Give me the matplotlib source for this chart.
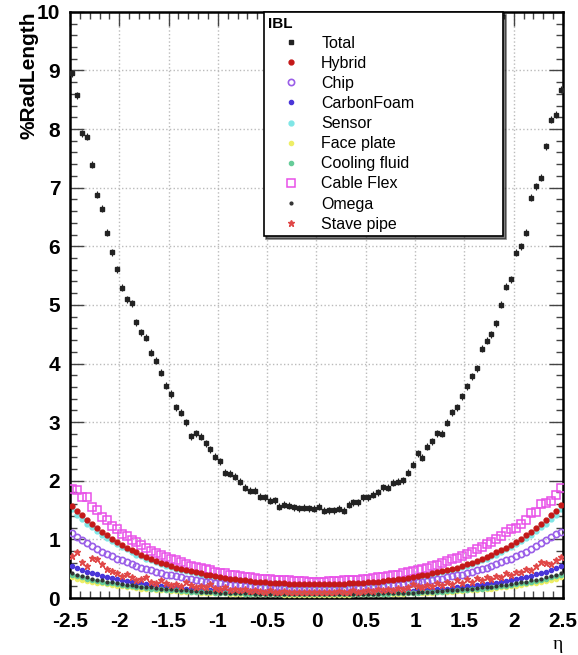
import numpy as np
import matplotlib
matplotlib.use("Agg")
import matplotlib.pyplot as plt
from matplotlib.ticker import MultipleLocator, FormatStrFormatter

plt.rcParams['font.family'] = ['Liberation Sans', 'DejaVu Sans']
plt.rcParams['axes.unicode_minus'] = False

# 100 bins of 0.05 in eta, from -2.5 to 2.5
eta = np.arange(-2.475, 2.5, 0.05)

total = [8.95, 8.58, 7.93, 7.87, 7.39, 6.88, 6.64, 6.23, 5.90, 5.61,
         5.29, 5.10, 5.03, 4.70, 4.53, 4.44, 4.18, 4.05, 3.84, 3.62,
         3.48, 3.25, 3.16, 3.00, 2.76, 2.81, 2.75, 2.64, 2.54, 2.41,
         2.33, 2.14, 2.12, 2.07, 1.98, 1.88, 1.83, 1.83, 1.73, 1.72,
         1.66, 1.67, 1.56, 1.59, 1.57, 1.55, 1.53, 1.54, 1.53, 1.52,
         1.56, 1.49, 1.50, 1.50, 1.52, 1.49, 1.59, 1.63, 1.63, 1.72,
         1.72, 1.76, 1.80, 1.89, 1.88, 1.97, 1.98, 2.01, 2.14, 2.27,
         2.47, 2.39, 2.58, 2.67, 2.81, 2.80, 2.99, 3.17, 3.25, 3.44,
         3.61, 3.78, 3.92, 4.25, 4.39, 4.50, 4.69, 5.00, 5.31, 5.44,
         5.89, 6.00, 6.23, 6.83, 7.02, 7.17, 7.71, 8.16, 8.24, 8.67]
total_err = 0.06

hybrid = [1.57, 1.49, 1.41, 1.33, 1.26, 1.19, 1.13, 1.07, 1.01, 0.96,
          0.91, 0.86, 0.82, 0.78, 0.74, 0.70, 0.67, 0.63, 0.60, 0.58,
          0.55, 0.52, 0.50, 0.48, 0.46, 0.44, 0.42, 0.40, 0.39, 0.37,
          0.36, 0.34, 0.33, 0.32, 0.31, 0.30, 0.29, 0.28, 0.27, 0.27,
          0.26, 0.26, 0.25, 0.25, 0.24, 0.24, 0.24, 0.24, 0.24, 0.24,
          0.24, 0.24, 0.24, 0.24, 0.24, 0.24, 0.25, 0.25, 0.26, 0.26,
          0.27, 0.27, 0.28, 0.29, 0.30, 0.31, 0.32, 0.33, 0.34, 0.36,
          0.37, 0.39, 0.40, 0.42, 0.44, 0.46, 0.48, 0.50, 0.52, 0.55,
          0.58, 0.60, 0.63, 0.67, 0.70, 0.74, 0.78, 0.82, 0.86, 0.91,
          0.96, 1.01, 1.07, 1.13, 1.19, 1.26, 1.33, 1.41, 1.49, 1.58]

chip = [1.11, 1.04, 0.99, 0.93, 0.88, 0.84, 0.79, 0.75, 0.71, 0.67,
        0.64, 0.61, 0.58, 0.55, 0.52, 0.49, 0.47, 0.45, 0.42, 0.40,
        0.39, 0.37, 0.35, 0.33, 0.32, 0.31, 0.29, 0.28, 0.27, 0.26,
        0.25, 0.24, 0.23, 0.22, 0.22, 0.21, 0.20, 0.20, 0.19, 0.19,
        0.18, 0.18, 0.18, 0.17, 0.17, 0.17, 0.17, 0.17, 0.17, 0.17,
        0.17, 0.17, 0.17, 0.17, 0.17, 0.17, 0.18, 0.18, 0.18, 0.19,
        0.19, 0.20, 0.20, 0.21, 0.22, 0.22, 0.23, 0.24, 0.25, 0.26,
        0.27, 0.28, 0.29, 0.31, 0.32, 0.33, 0.35, 0.37, 0.39, 0.40,
        0.42, 0.45, 0.47, 0.49, 0.52, 0.55, 0.58, 0.61, 0.64, 0.67,
        0.71, 0.75, 0.79, 0.84, 0.88, 0.93, 0.99, 1.04, 1.10, 1.13]

carbonfoam = [0.54, 0.51, 0.48, 0.45, 0.43, 0.41, 0.38, 0.36, 0.34, 0.33,
              0.31, 0.29, 0.28, 0.26, 0.25, 0.24, 0.23, 0.22, 0.21, 0.20,
              0.19, 0.18, 0.17, 0.16, 0.16, 0.15, 0.14, 0.14, 0.13, 0.13,
              0.12, 0.12, 0.11, 0.11, 0.11, 0.10, 0.10, 0.10, 0.09, 0.09,
              0.09, 0.09, 0.09, 0.08, 0.08, 0.08, 0.08, 0.08, 0.08, 0.08,
              0.08, 0.08, 0.08, 0.08, 0.08, 0.08, 0.08, 0.09, 0.09, 0.09,
              0.09, 0.09, 0.10, 0.10, 0.10, 0.11, 0.11, 0.11, 0.12, 0.12,
              0.13, 0.13, 0.14, 0.14, 0.15, 0.16, 0.16, 0.17, 0.18, 0.19,
              0.20, 0.21, 0.22, 0.23, 0.24, 0.25, 0.26, 0.28, 0.29, 0.31,
              0.33, 0.34, 0.36, 0.38, 0.41, 0.43, 0.45, 0.48, 0.51, 0.54]

sensor = [1.51, 1.42, 1.35, 1.27, 1.21, 1.14, 1.08, 1.02, 0.97, 0.92,
          0.87, 0.83, 0.79, 0.74, 0.71, 0.67, 0.64, 0.61, 0.58, 0.55,
          0.53, 0.50, 0.48, 0.46, 0.44, 0.42, 0.40, 0.38, 0.37, 0.36,
          0.34, 0.33, 0.32, 0.31, 0.30, 0.29, 0.28, 0.27, 0.26, 0.26,
          0.25, 0.25, 0.24, 0.24, 0.23, 0.23, 0.23, 0.23, 0.23, 0.23,
          0.23, 0.23, 0.23, 0.23, 0.23, 0.23, 0.24, 0.24, 0.25, 0.25,
          0.26, 0.26, 0.27, 0.28, 0.29, 0.30, 0.31, 0.32, 0.33, 0.34,
          0.36, 0.37, 0.38, 0.40, 0.42, 0.44, 0.46, 0.48, 0.50, 0.53,
          0.55, 0.58, 0.61, 0.64, 0.67, 0.71, 0.74, 0.79, 0.83, 0.87,
          0.92, 0.97, 1.02, 1.08, 1.14, 1.21, 1.27, 1.35, 1.42, 1.51]

faceplate = [0.35, 0.33, 0.31, 0.29, 0.28, 0.26, 0.25, 0.24, 0.22, 0.21,
             0.20, 0.19, 0.18, 0.17, 0.16, 0.16, 0.15, 0.14, 0.13, 0.13,
             0.12, 0.12, 0.11, 0.11, 0.10, 0.10, 0.09, 0.09, 0.09, 0.08,
             0.08, 0.08, 0.07, 0.07, 0.07, 0.07, 0.06, 0.06, 0.06, 0.06,
             0.06, 0.06, 0.06, 0.05, 0.05, 0.05, 0.05, 0.05, 0.05, 0.05,
             0.05, 0.05, 0.05, 0.05, 0.05, 0.05, 0.05, 0.06, 0.06, 0.06,
             0.06, 0.06, 0.06, 0.06, 0.07, 0.07, 0.07, 0.07, 0.08, 0.08,
             0.08, 0.09, 0.09, 0.09, 0.10, 0.10, 0.11, 0.11, 0.12, 0.12,
             0.13, 0.13, 0.14, 0.15, 0.16, 0.16, 0.17, 0.18, 0.19, 0.20,
             0.21, 0.22, 0.24, 0.25, 0.26, 0.28, 0.29, 0.31, 0.33, 0.35]

cooling = [0.39, 0.37, 0.35, 0.33, 0.31, 0.29, 0.28, 0.26, 0.25, 0.24,
           0.22, 0.21, 0.20, 0.19, 0.18, 0.17, 0.16, 0.16, 0.15, 0.14,
           0.14, 0.13, 0.12, 0.12, 0.11, 0.11, 0.10, 0.10, 0.10, 0.09,
           0.09, 0.08, 0.08, 0.08, 0.08, 0.07, 0.07, 0.07, 0.07, 0.07,
           0.06, 0.06, 0.06, 0.06, 0.06, 0.06, 0.06, 0.06, 0.06, 0.06,
           0.06, 0.06, 0.06, 0.06, 0.06, 0.06, 0.06, 0.06, 0.06, 0.06,
           0.07, 0.07, 0.07, 0.07, 0.07, 0.08, 0.08, 0.08, 0.08, 0.09,
           0.09, 0.10, 0.10, 0.10, 0.11, 0.11, 0.12, 0.12, 0.13, 0.14,
           0.14, 0.15, 0.16, 0.16, 0.17, 0.18, 0.19, 0.20, 0.21, 0.22,
           0.24, 0.25, 0.26, 0.28, 0.29, 0.31, 0.33, 0.35, 0.37, 0.39]

cableflex = [1.86, 1.84, 1.73, 1.72, 1.55, 1.50, 1.38, 1.33, 1.22, 1.18,
             1.10, 1.06, 0.99, 0.95, 0.90, 0.85, 0.81, 0.77, 0.73, 0.70,
             0.67, 0.64, 0.61, 0.58, 0.55, 0.53, 0.51, 0.49, 0.47, 0.45,
             0.43, 0.42, 0.40, 0.39, 0.38, 0.36, 0.35, 0.34, 0.33, 0.32,
             0.32, 0.31, 0.30, 0.30, 0.30, 0.29, 0.29, 0.29, 0.28, 0.28,
             0.28, 0.28, 0.29, 0.29, 0.29, 0.30, 0.30, 0.31, 0.31, 0.32,
             0.33, 0.34, 0.35, 0.36, 0.37, 0.39, 0.40, 0.42, 0.44, 0.46,
             0.48, 0.50, 0.52, 0.55, 0.57, 0.60, 0.63, 0.66, 0.69, 0.72,
             0.75, 0.79, 0.83, 0.87, 0.92, 0.96, 1.01, 1.06, 1.12, 1.18,
             1.20, 1.26, 1.33, 1.45, 1.46, 1.60, 1.62, 1.66, 1.75, 1.88]

omega = [0.42, 0.39, 0.37, 0.35, 0.33, 0.31, 0.30, 0.28, 0.27, 0.25,
         0.24, 0.23, 0.22, 0.21, 0.19, 0.19, 0.18, 0.17, 0.16, 0.15,
         0.15, 0.14, 0.13, 0.13, 0.12, 0.12, 0.11, 0.11, 0.10, 0.10,
         0.09, 0.09, 0.09, 0.08, 0.08, 0.08, 0.08, 0.07, 0.07, 0.07,
         0.07, 0.07, 0.07, 0.07, 0.06, 0.06, 0.06, 0.06, 0.06, 0.06,
         0.06, 0.06, 0.06, 0.06, 0.06, 0.06, 0.07, 0.07, 0.07, 0.07,
         0.07, 0.07, 0.07, 0.08, 0.08, 0.08, 0.08, 0.09, 0.09, 0.09,
         0.10, 0.10, 0.11, 0.11, 0.12, 0.12, 0.13, 0.13, 0.14, 0.15,
         0.15, 0.16, 0.17, 0.18, 0.19, 0.19, 0.21, 0.22, 0.23, 0.24,
         0.25, 0.27, 0.28, 0.30, 0.31, 0.33, 0.35, 0.37, 0.39, 0.42]

stavepipe = [0.72, 0.78, 0.62, 0.55, 0.68, 0.66, 0.58, 0.50, 0.46, 0.42,
             0.38, 0.41, 0.36, 0.30, 0.33, 0.35, 0.28, 0.25, 0.30, 0.26,
             0.22, 0.24, 0.20, 0.28, 0.22, 0.18, 0.21, 0.19, 0.24, 0.17,
             0.15, 0.18, 0.14, 0.16, 0.13, 0.15, 0.12, 0.14, 0.12, 0.11,
             0.13, 0.11, 0.10, 0.12, 0.10, 0.11, 0.10, 0.10, 0.11, 0.10,
             0.10, 0.11, 0.10, 0.10, 0.12, 0.10, 0.11, 0.13, 0.11, 0.12,
             0.14, 0.12, 0.15, 0.13, 0.16, 0.14, 0.17, 0.15, 0.19, 0.24,
             0.21, 0.18, 0.22, 0.20, 0.25, 0.22, 0.27, 0.24, 0.30, 0.26,
             0.32, 0.28, 0.34, 0.31, 0.36, 0.33, 0.38, 0.35, 0.42, 0.40,
             0.45, 0.44, 0.50, 0.48, 0.55, 0.62, 0.60, 0.58, 0.65, 0.70]

fig = plt.figure(figsize=(5.78, 6.55), dpi=100)
ax = fig.add_axes([0.121, 0.087, 0.853, 0.895])

handles = []
h = ax.errorbar(eta, total, yerr=total_err, fmt='s', ms=3.2, color='#222222',
                elinewidth=0.8, capsize=0, zorder=5)
handles.append((h[0], 'Total'))
h, = ax.plot(eta, hybrid, 'o', ms=3.5, color='#c41818', zorder=4)
handles.append((h, 'Hybrid'))
h, = ax.plot(eta, chip, 'o', ms=4.5, mfc='none', mec='#9a5ee8', mew=1.2, zorder=3)
handles.append((h, 'Chip'))
h, = ax.plot(eta, carbonfoam, 'o', ms=3, color='#4a36d8', zorder=4)
handles.append((h, 'CarbonFoam'))
h, = ax.plot(eta, sensor, 'o', ms=3.5, color='#7fe6e6', zorder=2)
handles.append((h, 'Sensor'))
h, = ax.plot(eta, faceplate, 'o', ms=3, color='#eeee66', zorder=4)
handles.append((h, 'Face plate'))
h, = ax.plot(eta, cooling, 'o', ms=3, color='#66cc99', zorder=4)
handles.append((h, 'Cooling fluid'))
h, = ax.plot(eta, cableflex, 's', ms=5.5, mfc='none', mec='#e850e8', mew=1.1, zorder=3)
handles.append((h, 'Cable Flex'))
h, = ax.plot(eta, omega, 'o', ms=2, color='#333333', zorder=4)
handles.append((h, 'Omega'))
h, = ax.plot(eta, stavepipe, '*', ms=5, color='#e04848', zorder=4)
handles.append((h, 'Stave pipe'))

ax.set_xlim(-2.5, 2.5)
ax.set_ylim(0, 10)
ax.xaxis.set_major_locator(MultipleLocator(0.5))
ax.xaxis.set_minor_locator(MultipleLocator(0.1))
ax.yaxis.set_major_locator(MultipleLocator(1))
ax.yaxis.set_minor_locator(MultipleLocator(0.2))
ax.xaxis.set_major_formatter(FormatStrFormatter('%g'))
ax.yaxis.set_major_formatter(FormatStrFormatter('%g'))
ax.tick_params(which='both', direction='in', top=True, right=True,
               labelsize=15, width=1, color='#444444')
ax.tick_params(which='major', length=10)
ax.tick_params(which='minor', length=5)
for lab in ax.get_xticklabels() + ax.get_yticklabels():
    lab.set_fontweight('bold')
ax.tick_params(axis='x', pad=10)
ax.tick_params(axis='y', pad=7)
ax.grid(True, which='major', linestyle=':', color='#bbbbbb', linewidth=1)
ax.set_axisbelow(True)
for s in ax.spines.values():
    s.set_linewidth(1.8)

ax.set_ylabel('%RadLength', fontsize=15, fontweight='bold', loc='top')
ax.yaxis.set_label_coords(-0.064, 1.0)
ax.set_xlabel('η', fontsize=14, loc='right',
              family=['Liberation Serif', 'DejaVu Serif'])

leg = ax.legend([x[0] for x in handles], [x[1] for x in handles],
                loc='upper left', bbox_to_anchor=(0.393, 1.0, 0.485, 0.0),
                mode='expand', title='IBL', alignment='left',
                title_fontproperties={'weight': 'bold', 'size': 11},
                fontsize=11.5, frameon=True, fancybox=False,
                shadow={'color': 'black'}, borderaxespad=0,
                labelspacing=0.32, handletextpad=0.5, borderpad=0.3,
                handlelength=2.8, handleheight=0.7)
leg.get_frame().set_edgecolor('black')
leg.get_frame().set_linewidth(1.2)
leg.set_zorder(10)

fig.savefig('out.png', dpi=100)
